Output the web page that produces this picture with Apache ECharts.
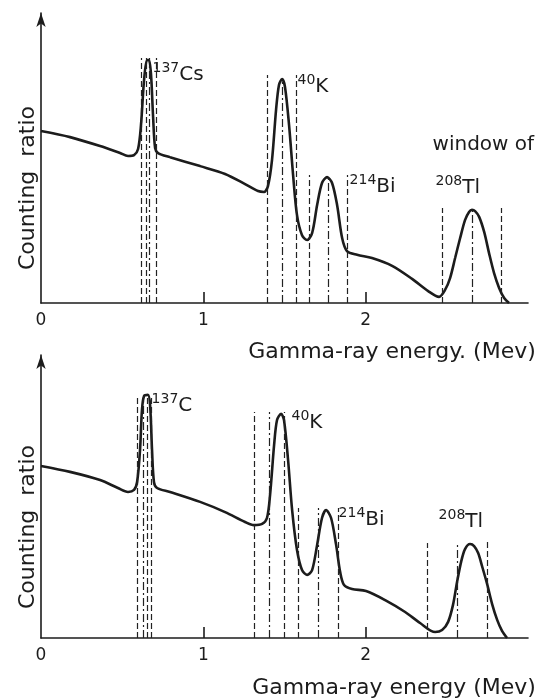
<!DOCTYPE html>
<html>
<head>
<meta charset="utf-8">
<script src="https://cdn.jsdelivr.net/npm/echarts@6/dist/echarts.min.js"></script>
<style>
html, body { margin: 0; background: #fff; }
#chart { width: 551px; height: 700px; }
</style>
</head>
<body>
<div id="chart"></div>
<script>
// energy (MeV) and counting ratio (relative units)
var topEnergy = [0, 0.179, 0.364, 0.487, 0.536, 0.573, 0.598, 0.616, 0.635, 0.653, 0.665, 0.678, 0.690, 0.703, 0.721,
  0.795, 0.980, 1.134, 1.257, 1.337, 1.374, 1.398, 1.423, 1.448, 1.466, 1.485, 1.503, 1.528, 1.553, 1.577,
  1.608, 1.639, 1.670, 1.701, 1.731, 1.762, 1.793, 1.824, 1.855, 1.885, 1.947, 2.039, 2.163, 2.286, 2.385,
  2.452, 2.489, 2.520, 2.551, 2.582, 2.612, 2.637, 2.655, 2.674, 2.699, 2.730, 2.760, 2.791, 2.822, 2.853, 2.883]
var topCount = [59.3, 57.2, 54.1, 51.7, 50.7, 51.0, 53.1, 61.4, 76.9, 83.8, 83.8, 78.6, 64.8, 53.4, 51.7,
  50.3, 47.2, 44.5, 41.0, 38.6, 38.3, 40.3, 49.3, 66.6, 75.2, 77.2, 74.5, 61.4, 44.1, 30.3,
  23.4, 21.7, 24.1, 33.8, 41.4, 43.4, 41.4, 33.8, 22.4, 17.9, 16.6, 15.5, 12.8, 8.3, 4.1,
  2.1, 4.5, 8.6, 15.5, 22.4, 28.6, 31.4, 32.1, 31.7, 29.7, 24.5, 17.2, 10.3, 5.2, 1.7, 0]

var botEnergy = [0, 0.179, 0.364, 0.474, 0.536, 0.573, 0.592, 0.610, 0.622, 0.635, 0.659, 0.672, 0.684, 0.696, 0.715,
  0.795, 0.980, 1.134, 1.257, 1.312, 1.362, 1.392, 1.411, 1.436, 1.454, 1.479, 1.497, 1.522, 1.547, 1.577,
  1.608, 1.639, 1.670, 1.701, 1.731, 1.756, 1.787, 1.818, 1.843, 1.867, 1.916, 2.002, 2.120, 2.243, 2.335,
  2.428, 2.471, 2.508, 2.538, 2.563, 2.588, 2.612, 2.643, 2.668, 2.693, 2.717, 2.748, 2.779, 2.810, 2.840, 2.871]
var botCount = [60.8, 58.7, 55.8, 53.0, 51.6, 52.3, 55.1, 66.4, 80.6, 85.5, 85.9, 82.3, 66.4, 55.1, 53.0,
  51.6, 48.1, 44.5, 41.0, 39.9, 40.3, 42.4, 50.5, 68.2, 77.0, 79.2, 77.0, 62.9, 45.2, 31.1,
  24.0, 22.3, 24.0, 32.9, 42.4, 45.2, 42.4, 32.9, 23.3, 18.7, 17.3, 16.6, 13.4, 9.2, 5.3,
  2.1, 2.8, 5.7, 11.7, 19.8, 26.9, 31.4, 33.2, 32.5, 30.0, 25.4, 19.1, 12.0, 6.4, 2.5, 0]

// window boundaries (dashed) and peak centres (dash-dot): energy, top of line
var topDashE = [0.616, 0.647, 0.709, 1.392, 1.571, 1.651, 1.885, 2.471, 2.834]
var topDashTop = [84.5, 84.5, 84.5, 78.6, 78.6, 44.1, 44.1, 32.8, 32.8]
var topDotE = [0.665, 1.485, 1.768, 2.655]
var topDotTop = [84.5, 77.2, 43.4, 32.1]

var botDashE = [0.592, 0.653, 0.678, 1.312, 1.497, 1.583, 1.830, 2.378, 2.748]
var botDashTop = [85.2, 85.2, 85.2, 79.9, 79.9, 45.9, 45.9, 33.6, 33.9]
var botDotE = [0.628, 1.405, 1.707, 2.563]
var botDotTop = [85.2, 79.9, 45.9, 33.6]

// peak labels: [mass number, element], anchor energy, anchor count
var topLabelIso = [['137', 'Cs'], ['40', 'K'], ['214', 'Bi'], ['208', 'Tl'], ['', 'window of']]
var topLabelE = [0.684, 1.577, 1.898, 2.427, 2.409]
var topLabelV = [79.3, 75.2, 40.7, 40.3, 55.2]
var botLabelIso = [['137', 'C'], ['40', 'K'], ['214', 'Bi'], ['208', 'Tl']]
var botLabelE = [0.678, 1.540, 1.830, 2.446]
var botLabelV = [82.7, 76.7, 42.4, 41.7]

var xTickLabels = ['0', '1', '2']

var ink = '#1c1c1c'
var font = 'DejaVu Sans'
var dashType = [6, 3]
var dotType = [8, 3, 2, 3]

function pairs(xs, ys) {
  return xs.map(function (x, i) { return [x, ys[i]] })
}

function vLines(es, tops, type) {
  return es.map(function (e, i) {
    return [
      { coord: [e, 0], lineStyle: { type: type } },
      { coord: [e, tops[i]] }
    ]
  })
}

function labels(iso, es, vs) {
  return iso.map(function (item, i) {
    return {
      coord: [es[i], vs[i]],
      label: {
        formatter: item[0] ? '{s|' + item[0] + '}{b|' + item[1] + '}' : '{b|' + item[1] + '}'
      }
    }
  })
}

function spectrum(idx, es, vs, dashE, dashTop, dotE, dotTop, iso, le, lv) {
  return {
    type: 'line',
    xAxisIndex: idx,
    yAxisIndex: idx,
    data: pairs(es, vs),
    showSymbol: false,
    smooth: 0.3,
    lineStyle: { color: ink, width: 2.6 },
    silent: true,
    markLine: {
      silent: true,
      symbol: 'none',
      label: { show: false },
      lineStyle: { color: '#222', width: 1.2 },
      data: vLines(dashE, dashTop, dashType).concat(vLines(dotE, dotTop, dotType))
    },
    markPoint: {
      silent: true,
      symbol: 'circle',
      symbolSize: 1,
      itemStyle: { color: 'transparent' },
      label: {
        show: true,
        position: 'right',
        distance: 0,
        color: ink,
        fontFamily: font,
        rich: {
          s: { fontSize: 14, fontFamily: font, color: ink, lineHeight: 14, verticalAlign: 'top' },
          b: { fontSize: 20, fontFamily: font, color: ink, lineHeight: 24, verticalAlign: 'bottom' }
        }
      },
      data: labels(iso, le, lv)
    }
  }
}

function xAxis(idx) {
  return {
    type: 'value',
    gridIndex: idx,
    min: 0,
    max: 3,
    interval: 1,
    axisLine: { lineStyle: { color: ink, width: 1.6 } },
    axisTick: { show: true, inside: true, length: 11, customValues: [1, 2], lineStyle: { color: ink, width: 1.6 } },
    axisLabel: {
      customValues: [0, 1, 2],
      formatter: function (v) { return xTickLabels[v] },
      color: ink, fontSize: 17, fontFamily: font, margin: 9
    },
    splitLine: { show: false }
  }
}

function yAxis(idx) {
  return {
    type: 'value',
    gridIndex: idx,
    min: 0,
    max: 100,
    axisLine: { show: true, symbol: ['none', 'arrow'], symbolSize: [7, 14], lineStyle: { color: ink, width: 1.6 } },
    axisTick: { show: false },
    axisLabel: { show: false },
    splitLine: { show: false }
  }
}

function title(text, x, y, rot) {
  return {
    type: 'text',
    x: x,
    y: y,
    rotation: rot || 0,
    silent: true,
    style: { text: text, fill: ink, font: '22px "' + font + '"', align: 'center', verticalAlign: 'middle' }
  }
}

var chart = echarts.init(document.getElementById('chart'))
chart.setOption({
  backgroundColor: '#fff',
  animation: false,
  grid: [
    { left: 41, top: 13, width: 487, height: 290 },
    { left: 41, top: 355, width: 487, height: 283 }
  ],
  xAxis: [xAxis(0), xAxis(1)],
  yAxis: [yAxis(0), yAxis(1)],
  series: [
    spectrum(0, topEnergy, topCount, topDashE, topDashTop, topDotE, topDotTop, topLabelIso, topLabelE, topLabelV),
    spectrum(1, botEnergy, botCount, botDashE, botDashTop, botDotE, botDotTop, botLabelIso, botLabelE, botLabelV)
  ],
  graphic: [
    title('Gamma-ray energy. (Mev)', 392, 352),
    title('Gamma-ray energy (Mev)', 394, 688),
    title('Counting  ratio', 28, 188, Math.PI / 2),
    title('Counting  ratio', 28, 527, Math.PI / 2)
  ]
})
</script>
</body>
</html>
